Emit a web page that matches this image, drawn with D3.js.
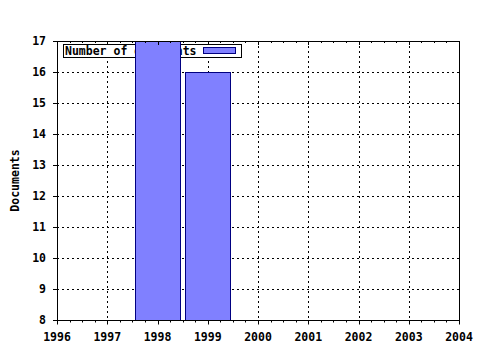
<!DOCTYPE html>
<html>
<head>
<meta charset="utf-8">
<title>Documents per year</title>
<script src="https://cdn.jsdelivr.net/npm/d3@7"></script>
<style>
  body { margin: 0; background: #fff; }
  text { font-family: "DejaVu Sans Mono", monospace; font-weight: bold; font-size: 11.5px; fill: #000; }
</style>
</head>
<body>
<div id="chart"></div>
<script>
// data
var years = [1998, 1999];
var documents = [17, 16];
var xTicks = [1996, 1997, 1998, 1999, 2000, 2001, 2002, 2003, 2004];
var yTicks = [8, 9, 10, 11, 12, 13, 14, 15, 16, 17];
var seriesName = "Number of documents";

var W = 480, H = 350;
var marg = {top: 41, right: 21, bottom: 30, left: 57};
var w = W - marg.left - marg.right,
    h = H - marg.top - marg.bottom;

var svg = d3.select("#chart").append("svg")
    .attr("width", W).attr("height", H);
var g = svg.append("g")
    .attr("transform", "translate(" + marg.left + "," + marg.top + ")");

var x = d3.scaleLinear().domain([1996, 2004]).range([0, w]);
var y = d3.scaleLinear().domain([8, 17]).range([h, 0]);

// dotted grid
g.append("g").selectAll("line")
  .data(xTicks.slice(1, -1)).enter().append("line")
    .attr("x1", function(d) { return Math.round(x(d)) + 0.5; })
    .attr("x2", function(d) { return Math.round(x(d)) + 0.5; })
    .attr("y1", 0).attr("y2", h)
    .attr("stroke", "#000").attr("stroke-dasharray", "2,3");
g.append("g").selectAll("line")
  .data(yTicks.slice(1, -1)).enter().append("line")
    .attr("y1", function(d) { return Math.round(y(d)) + 0.5; })
    .attr("y2", function(d) { return Math.round(y(d)) + 0.5; })
    .attr("x1", 0).attr("x2", w)
    .attr("stroke", "#000").attr("stroke-dasharray", "2,3");

// legend (bars get drawn over it, like the original)
var leg = g.append("g").attr("transform", "translate(6,3)");
leg.append("rect").attr("x", 0.5).attr("y", 0.5).attr("width", 178).attr("height", 13)
  .attr("fill", "#fff").attr("stroke", "#000");
leg.append("text").attr("x", 2).attr("y", 10.5).text(seriesName);
leg.append("rect").attr("x", 140.5).attr("y", 3.5).attr("width", 32).attr("height", 6)
  .attr("fill", "#8080ff").attr("stroke", "#000080");

// bars
var bw = x(1996.9) - x(1996);
g.append("g").selectAll("rect")
  .data(years).enter().append("rect")
    .attr("x", function(d) { return Math.round(x(d) - bw / 2) + 0.5; })
    .attr("width", Math.round(bw))
    .attr("y", function(d, i) { return Math.round(y(documents[i])) + 0.5; })
    .attr("height", function(d, i) { return Math.round(h - y(documents[i])); })
    .attr("fill", "#8080ff").attr("stroke", "#000080");

// frame
g.append("rect").attr("x", 0.5).attr("y", 0.5).attr("width", w).attr("height", h)
  .attr("fill", "none").attr("stroke", "#000");

// x axis bottom with minor ticks
var minor = d3.range(1996, 2004.01, 0.25);
var xb = g.append("g").attr("transform", "translate(0," + (h + 0.5) + ")");
xb.selectAll("line").data(minor).enter().append("line")
  .attr("x1", function(d) { return Math.round(x(d)) + 0.5; })
  .attr("x2", function(d) { return Math.round(x(d)) + 0.5; })
  .attr("y1", 0).attr("y2", function(d) { return d % 1 === 0 ? 4 : 2; })
  .attr("stroke", "#000");
xb.selectAll("text").data(xTicks).enter().append("text")
  .attr("x", function(d) { return x(d); }).attr("y", 20)
  .attr("text-anchor", "middle").text(function(d) { return d; });

// top minor ticks (inside)
g.append("g").selectAll("line").data(minor).enter().append("line")
  .attr("x1", function(d) { return Math.round(x(d)) + 0.5; })
  .attr("x2", function(d) { return Math.round(x(d)) + 0.5; })
  .attr("y1", 0).attr("y2", function(d) { return d % 1 === 0 ? 4 : 2; })
  .attr("stroke", "#000");

// y axis
var ya = g.append("g");
ya.selectAll("line").data(yTicks).enter().append("line")
  .attr("x1", -4).attr("x2", 0.5)
  .attr("y1", function(d) { return Math.round(y(d)) + 0.5; })
  .attr("y2", function(d) { return Math.round(y(d)) + 0.5; })
  .attr("stroke", "#000");
ya.selectAll("text").data(yTicks).enter().append("text")
  .attr("x", -11).attr("y", function(d) { return y(d) + 4; })
  .attr("text-anchor", "end").text(function(d) { return d; });

svg.append("text")
  .attr("transform", "translate(19," + (marg.top + h / 2) + ") rotate(-90)")
  .attr("text-anchor", "middle").text("Documents");
</script>
</body>
</html>
